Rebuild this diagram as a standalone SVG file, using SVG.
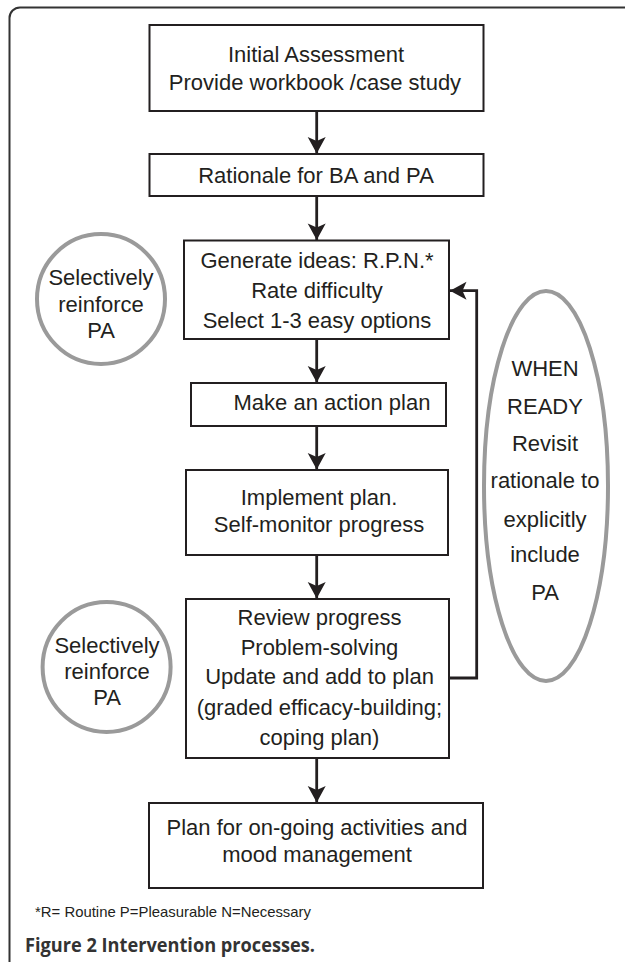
<svg xmlns="http://www.w3.org/2000/svg" width="625" height="962" viewBox="0 0 625 962">
<style>
.box{fill:#fff;stroke:#231f20;stroke-width:2}
.t{font-family:"Liberation Sans",Arial,sans-serif;font-size:22px;fill:#231f20;text-anchor:middle}
.oval{fill:none;stroke:#9a9a9a;stroke-width:4}
.conn{fill:none;stroke:#231f20;stroke-width:2.8}
.foot{font-family:"Liberation Sans",Arial,sans-serif;font-size:14.5px;fill:#231f20}
.cap{font-family:"Open Sans","DejaVu Sans",sans-serif;font-size:19px;font-weight:bold;fill:#333}
</style>
<defs>
<marker id="ah" markerUnits="userSpaceOnUse" markerWidth="20" markerHeight="20" viewBox="-19 -10 20 20" refX="0" refY="0" orient="auto">
<path d="M0,0 L-16.5,-9 L-12.5,0 L-16.5,9 Z" fill="#231f20"/>
</marker>
</defs>
<rect width="625" height="962" fill="#fff"/>
<path d="M9.5,962 L9.5,18 A10.5,10.5 0 0 1 20,7.5 L625,7.5" fill="none" stroke="#333" stroke-width="2"/>

<g id="connectors">
<line class="conn" x1="316.7" y1="111" x2="316.7" y2="153.5" marker-end="url(#ah)"/>
<line class="conn" x1="316.7" y1="196" x2="316.7" y2="240" marker-end="url(#ah)"/>
<line class="conn" x1="316.7" y1="339" x2="316.7" y2="382.5" marker-end="url(#ah)"/>
<line class="conn" x1="316.7" y1="426" x2="316.7" y2="469.5" marker-end="url(#ah)"/>
<line class="conn" x1="316.7" y1="555" x2="316.7" y2="598.5" marker-end="url(#ah)"/>
<line class="conn" x1="316.7" y1="758" x2="316.7" y2="802.5" marker-end="url(#ah)"/>
<path class="conn" d="M449,678 L476.7,678 L476.7,290.7 L450,290.7" marker-end="url(#ah)"/>
</g>

<g id="n1">
<rect class="box" x="149.5" y="25" width="334" height="86"/>
<text class="t" x="316" y="61.5">Initial Assessment</text>
<text class="t" x="315" y="90">Provide workbook /case study</text>
</g>
<g id="n2">
<rect class="box" x="149.5" y="154" width="334" height="42"/>
<text class="t" x="316" y="183">Rationale for BA and PA</text>
</g>
<g id="n3">
<rect class="box" x="184" y="240.5" width="265" height="98.5"/>
<text class="t" x="317" y="268">Generate ideas: R.P.N.*</text>
<text class="t" x="317" y="298">Rate difficulty</text>
<text class="t" x="317" y="328">Select 1-3 easy options</text>
</g>
<g id="n4">
<rect class="box" x="191" y="383" width="255" height="43"/>
<text class="t" x="332" y="410">Make an action plan</text>
</g>
<g id="n5">
<rect class="box" x="186" y="470" width="262" height="85"/>
<text class="t" x="319" y="505">Implement plan.</text>
<text class="t" x="319" y="532">Self-monitor progress</text>
</g>
<g id="n6">
<rect class="box" x="186" y="599" width="263" height="159"/>
<text class="t" x="319.5" y="625">Review progress</text>
<text class="t" x="319.5" y="655">Problem-solving</text>
<text class="t" x="319.5" y="684">Update and add to plan</text>
<text class="t" x="319.5" y="715">(graded efficacy-building;</text>
<text class="t" x="319.5" y="745">coping plan)</text>
</g>
<g id="n7">
<rect class="box" x="149" y="803" width="334" height="85"/>
<text class="t" x="317" y="835">Plan for on-going activities and</text>
<text class="t" x="317" y="862">mood management</text>
</g>
<g id="c1">
<ellipse class="oval" cx="101" cy="299" rx="64" ry="65"/>
<text class="t" x="101" y="285">Selectively</text>
<text class="t" x="101" y="312">reinforce</text>
<text class="t" x="101" y="338">PA</text>
</g>
<g id="c2">
<ellipse class="oval" cx="106.6" cy="667" rx="64" ry="65"/>
<text class="t" x="107" y="653">Selectively</text>
<text class="t" x="107" y="679">reinforce</text>
<text class="t" x="107" y="705">PA</text>
</g>
<g id="e1">
<ellipse class="oval" cx="546" cy="486" rx="62" ry="195"/>
<text class="t" x="545" y="376">WHEN</text>
<text class="t" x="545" y="414">READY</text>
<text class="t" x="545" y="451">Revisit</text>
<text class="t" x="545" y="488">rationale to</text>
<text class="t" x="545" y="527">explicitly</text>
<text class="t" x="545" y="562">include</text>
<text class="t" x="545" y="600">PA</text>
</g>
<text class="foot" x="35" y="917" textLength="276" lengthAdjust="spacingAndGlyphs">*R= Routine P=Pleasurable N=Necessary</text>
<text class="cap" x="25" y="951.5" textLength="290" lengthAdjust="spacingAndGlyphs">Figure 2 Intervention processes.</text>
</svg>
